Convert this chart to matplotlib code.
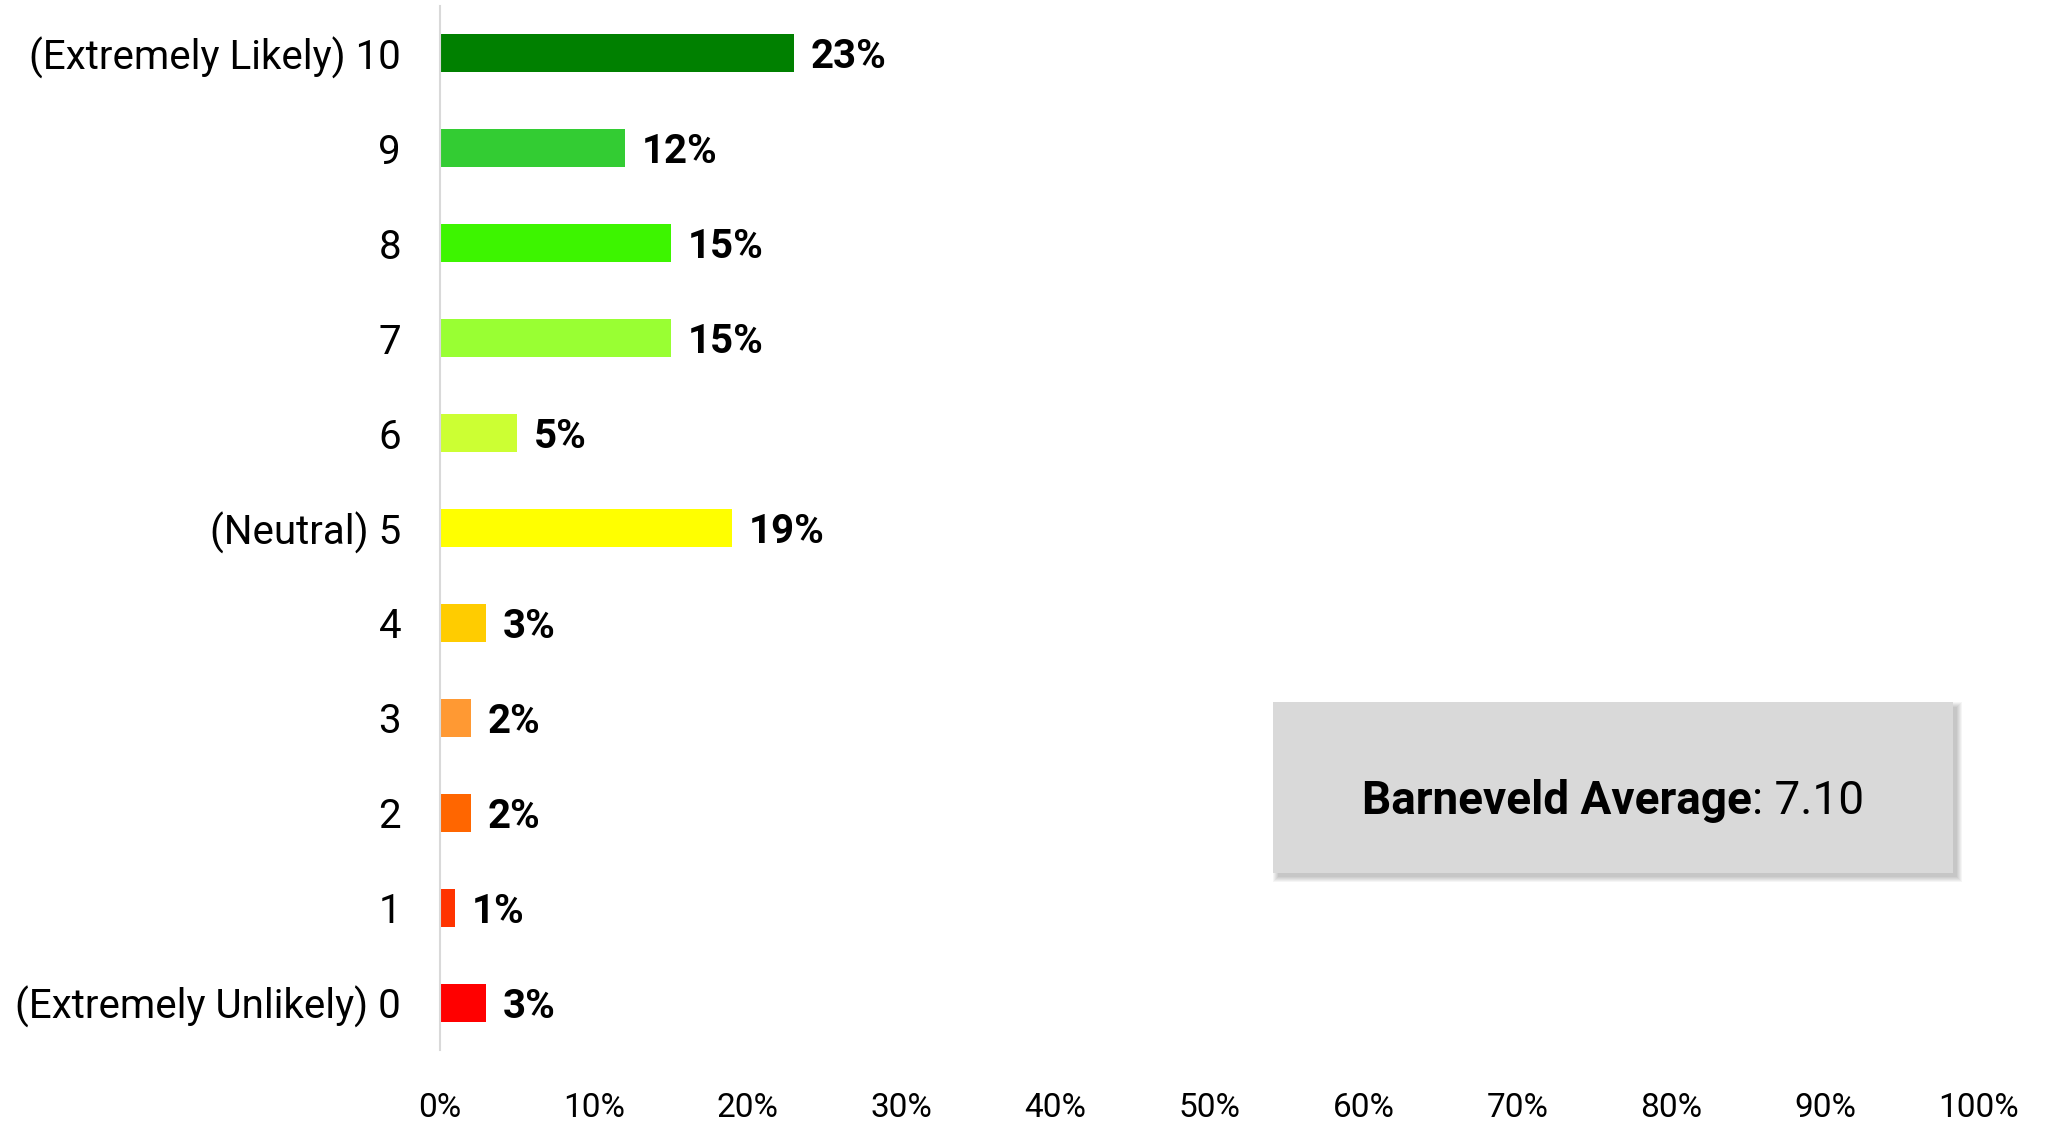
import matplotlib
matplotlib.use("Agg")
import matplotlib.pyplot as plt
from matplotlib.patches import Rectangle

plt.rcParams['font.family'] = ['Roboto', 'DejaVu Sans']

# ---- data ----
categories = ["(Extremely Unlikely) 0", "1", "2", "3", "4", "(Neutral) 5",
              "6", "7", "8", "9", "(Extremely Likely) 10"]
values = [3, 1, 2, 2, 3, 19, 5, 15, 15, 12, 23]
bar_colors = ["#FF0000", "#FF3300", "#FF6600", "#FF9933", "#FFCC00", "#FFFF00",
              "#CCFF33", "#99FF33", "#3DF500", "#33CC33", "#008000"]
x_ticks = [0, 10, 20, 30, 40, 50, 60, 70, 80, 90, 100]
x_tick_labels = [f"{t}%" for t in x_ticks]
avg_label = "Barneveld Average"
avg_value = "7.10"

W, H = 2055, 1126
fig = plt.figure(figsize=(W / 100, H / 100), dpi=100)
fig.patch.set_facecolor("white")

ax_left, ax_right, ax_top, ax_bottom = 440, 1979, 6, 1050
ax = fig.add_axes([ax_left / W, 1 - ax_bottom / H,
                   (ax_right - ax_left) / W, (ax_bottom - ax_top) / H])

ypos = list(range(len(categories)))
ax.barh(ypos, values, height=0.4, color=bar_colors, zorder=2)

for y, v in zip(ypos, values):
    ax.annotate(f"{v}%", xy=(v, y), xytext=(12, 0), textcoords="offset points",
                va="center_baseline", ha="left", fontsize=29, fontweight="bold",
                color="black")

ax.set_xlim(0, 100)
ax.set_ylim(-0.5, len(categories) - 0.5)
ax.set_yticks(ypos)
ax.set_yticklabels(categories, fontsize=29)
ax.set_xticks(x_ticks)
ax.set_xticklabels(x_tick_labels, fontsize=24)
ax.tick_params(axis="y", length=0, pad=28)
ax.tick_params(axis="x", length=0, pad=30)
for s in ["top", "right", "bottom"]:
    ax.spines[s].set_visible(False)
ax.spines["left"].set_color("#D9D9D9")
ax.spines["left"].set_linewidth(1.5)

# ---- average box with soft shadow ----
bx0, bx1, by0, by1 = 1273, 1953, 702, 873


def frect(x0, y0, x1, y1, **kw):
    return Rectangle((x0 / W, 1 - y1 / H), (x1 - x0) / W, (y1 - y0) / H,
                     transform=fig.transFigure, **kw)


off = 3
for k in range(6, 0, -1):
    fig.add_artist(frect(bx0 + off - k + 3, by0 + off - k + 3, bx1 + off + k, by1 + off + k,
                         facecolor="#000000", edgecolor="none", alpha=0.04, zorder=5))
fig.add_artist(frect(bx0, by0, bx1, by1, facecolor="#D9D9D9", edgecolor="none", zorder=6))

cx, cy = (bx0 + bx1) / 2, 801
renderer = fig.canvas.get_renderer()
t1 = fig.text(0, 0, avg_label, fontsize=33, fontweight="bold", va="center", ha="left", zorder=7)
t2 = fig.text(0, 0, f": {avg_value}", fontsize=33, va="center", ha="left", zorder=7)
w1 = t1.get_window_extent(renderer).width
w2 = t2.get_window_extent(renderer).width
start = cx - (w1 + w2) / 2
t1.set_position((start / W, 1 - cy / H))
t2.set_position(((start + w1) / W, 1 - cy / H))

fig.savefig("out.png", dpi=100, facecolor="white")
